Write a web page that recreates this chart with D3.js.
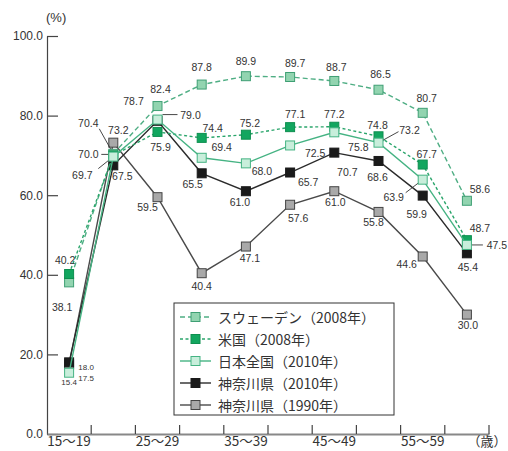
<!DOCTYPE html>
<html>
<head>
<meta charset="utf-8">
<script src="https://cdn.jsdelivr.net/npm/d3@7"></script>
<style>
  body { margin: 0; background: #fff; }
  svg { display: block; }
  text { font-family: "Liberation Sans", Arial, sans-serif; fill: #333; }
  .jp { font-family: "Noto Sans CJK JP", sans-serif; }
</style>
</head>
<body>
<div id="chart"></div>
<script>
//Categorías (edad)
const ageGroups = ['15-19','20-24','25-29','30-34','35-39','40-44','45-49','50-54','55-59','60-64'];
const xTickLabels = ['15～19','','25～29','','35～39','','45～49','','55～59',''];
const yTickValues = [0, 20, 40, 60, 80, 100];

//Valores de cada serie (%)
const sweden2008 = [38.1, 70.4, 82.4, 87.8, 89.9, 89.7, 88.7, 86.5, 80.7, 58.6];
const usa2008 = [40.2, 70.0, 75.9, 74.4, 75.2, 77.1, 77.2, 74.8, 67.7, 48.7];
const japan2010 = [15.4, 69.7, 79.0, 69.4, 68.0, 72.5, 75.8, 73.2, 63.9, 47.5];
const kanagawa2010 = [18.0, 67.5, 78.7, 65.5, 61.0, 65.7, 70.7, 68.6, 59.9, 45.4];
const kanagawa1990 = [17.5, 73.2, 59.5, 40.4, 47.1, 57.6, 61.0, 55.8, 44.6, 30.0];

const seriesNames = ['スウェーデン（2008年）','米国（2008年）','日本全国（2010年）','神奈川県（2010年）','神奈川県（1990年）'];

//Posición de las etiquetas respecto al marcador (dx, dy) y, si hay, línea guía (lx, ly)
const offsSweden = [[-7,25],[-25,-31,-14,-25],[3,-17],[0,-18],[0,-15],[5,-14],[2,-14],[2,-16],[4,-15],[13,-12]];
const offsUsa = [[-4,-14],[-25,-1,-12,-1],[3,15],[11,-10],[4,-12],[5,-13],[0,-13],[-1,-11],[4,-11],[13,-12]];
const offsJapan = [[0,10],[-31,18,-15,12],[33,-5,20,-5],[20,-11],[16,8],[25,8],[24,15],[31,-13,20,-11],[-29,17,-17,13],[30,0,16,0]];
const offsK2010 = [[17,5],[9,11],[-24,-20],[-9,11],[-6,11],[18,9],[13,19],[-1,16],[-6,18],[1,14]];
const offsK1990 = [[17,14],[5,-13],[-10,10],[0,13],[4,11],[8,13],[1,11],[-5,10],[-16,8],[1,10]];

const W = 508, H = 451;

const svg = d3.select('#chart').append('svg')
    .attr('width', W)
    .attr('height', H);

const x = d3.scaleBand()
    .domain(ageGroups)
    .range([47, 489]);

const y = d3.scaleLinear()
    .domain([0, 100])
    .range([434, 36]);

//Eje Y
const yAxis = svg.append('g')
    .attr('transform', 'translate(47,0)')
    .call(d3.axisLeft(y).tickValues(yTickValues).tickSize(-11).tickSizeOuter(0).tickPadding(4).tickFormat(d3.format('.1f')));
yAxis.select('.domain').attr('stroke', '#444').attr('stroke-width', 1.2);
yAxis.selectAll('.tick line').attr('stroke', '#444').attr('stroke-width', 1.2);
yAxis.selectAll('.tick text').attr('font-size', 12).attr('fill', '#333')
    .attr('font-family', '"Liberation Sans", Arial, sans-serif');

svg.append('text')
    .attr('x', 46).attr('y', 22)
    .attr('font-size', 13)
    .text('(%)');

//Eje X
const xAxis = svg.append('g')
    .attr('transform', 'translate(0,434)')
    .call(d3.axisBottom(x).tickSize(0).tickSizeOuter(0).tickPadding(2)
        .tickFormat(function(d, i) { return xTickLabels[i]; }));
xAxis.select('.domain').attr('stroke', '#888').attr('stroke-width', 2);
xAxis.selectAll('.tick text').attr('font-size', 13.5).attr('fill', '#333')
    .attr('class', 'jp');

const boundaries = ageGroups.slice(1).map(function(d) { return x(d); }).concat([x.range()[1]]);
svg.append('g')
    .selectAll('line')
    .data(boundaries)
    .enter()
    .append('line')
    .attr('x1', function(d) { return d; })
    .attr('x2', function(d) { return d; })
    .attr('y1', 434)
    .attr('y2', 425)
    .attr('stroke', '#444')
    .attr('stroke-width', 1.2);

svg.append('text')
    .attr('class', 'jp')
    .attr('x', x.range()[1] - 2).attr('y', 446)
    .attr('text-anchor', 'middle')
    .attr('font-size', 13)
    .text('（歳）');

//Series
const series = [
    {name: seriesNames[4], values: kanagawa1990, offs: offsK1990, line: '#4a4a4a', dash: null, fill: '#a9a9a9', stroke: '#444'},
    {name: seriesNames[3], values: kanagawa2010, offs: offsK2010, line: '#2b2b2b', dash: null, fill: '#1a1a1a', stroke: '#1a1a1a'},
    {name: seriesNames[0], values: sweden2008, offs: offsSweden, line: '#4fae84', dash: '5,3', fill: '#92d4b0', stroke: '#3f9f74'},
    {name: seriesNames[1], values: usa2008, offs: offsUsa, line: '#2aa56b', dash: '3,2.5', fill: '#12a65f', stroke: '#0e8f50'},
    {name: seriesNames[2], values: japan2010, offs: offsJapan, line: '#45b383', dash: null, fill: '#c8eedb', stroke: '#45b383'}
];

const cx = function(i) { return x(ageGroups[i]) + x.bandwidth() / 2; };

const line = d3.line()
    .x(function(d, i) { return cx(i); })
    .y(function(d) { return y(d); });

series.forEach(function(s) {
    const g = svg.append('g');
    g.append('path')
        .datum(s.values)
        .attr('d', line)
        .attr('fill', 'none')
        .attr('stroke', s.line)
        .attr('stroke-width', 1.4)
        .attr('stroke-dasharray', s.dash);

    //Líneas guía
    g.selectAll('line.leader')
        .data(s.values.map(function(v, i) { return {v: v, i: i, o: s.offs[i]}; }).filter(function(d) { return d.o.length > 2; }))
        .enter()
        .append('line')
        .attr('class', 'leader')
        .attr('x1', function(d) { return cx(d.i) + (d.o[2] > 15 && d.o[3] === d.o[1] ? 5 : 0); })
        .attr('y1', function(d) { return y(d.v) + (d.o[3] === d.o[1] ? d.o[1] : 0); })
        .attr('x2', function(d) { return cx(d.i) + d.o[2]; })
        .attr('y2', function(d) { return y(d.v) + d.o[3]; })
        .attr('stroke', '#333')
        .attr('stroke-width', 0.9);

    g.selectAll('rect')
        .data(s.values)
        .enter()
        .append('rect')
        .attr('x', function(d, i) { return cx(i) - 4.5; })
        .attr('y', function(d) { return y(d) - 4.5; })
        .attr('width', 9)
        .attr('height', 9)
        .attr('fill', s.fill)
        .attr('stroke', s.stroke)
        .attr('stroke-width', 1);
});

//Etiquetas de datos
series.forEach(function(s) {
    svg.append('g')
        .selectAll('text')
        .data(s.values)
        .enter()
        .append('text')
        .attr('x', function(d, i) { return cx(i) + s.offs[i][0]; })
        .attr('y', function(d, i) { return y(d) + s.offs[i][1]; })
        .attr('text-anchor', 'middle')
        .attr('dominant-baseline', 'central')
        .attr('font-size', function(d, i) { return i === 0 && d < 30 ? 8 : 10.5; })
        .text(function(d) { return d.toFixed(1); });
});

//Leyenda
const legend = svg.append('g');
legend.append('rect')
    .attr('x', 174).attr('y', 303)
    .attr('width', 220).attr('height', 112)
    .attr('fill', '#fff')
    .attr('stroke', '#333')
    .attr('stroke-width', 1);

const legendOrder = [2, 3, 4, 1, 0];
legendOrder.forEach(function(si, k) {
    const s = series[si];
    const ly = 317 + k * 22;
    legend.append('line')
        .attr('x1', 180).attr('x2', 211)
        .attr('y1', ly).attr('y2', ly)
        .attr('stroke', s.line)
        .attr('stroke-width', 1.4)
        .attr('stroke-dasharray', s.dash);
    legend.append('rect')
        .attr('x', 191).attr('y', ly - 4.5)
        .attr('width', 9).attr('height', 9)
        .attr('fill', s.fill)
        .attr('stroke', s.stroke);
    legend.append('text')
        .attr('class', 'jp')
        .attr('x', 218).attr('y', ly)
        .attr('dominant-baseline', 'central')
        .attr('font-size', 14)
        .attr('fill', '#222')
        .text(s.name);
});
</script>
</body>
</html>
